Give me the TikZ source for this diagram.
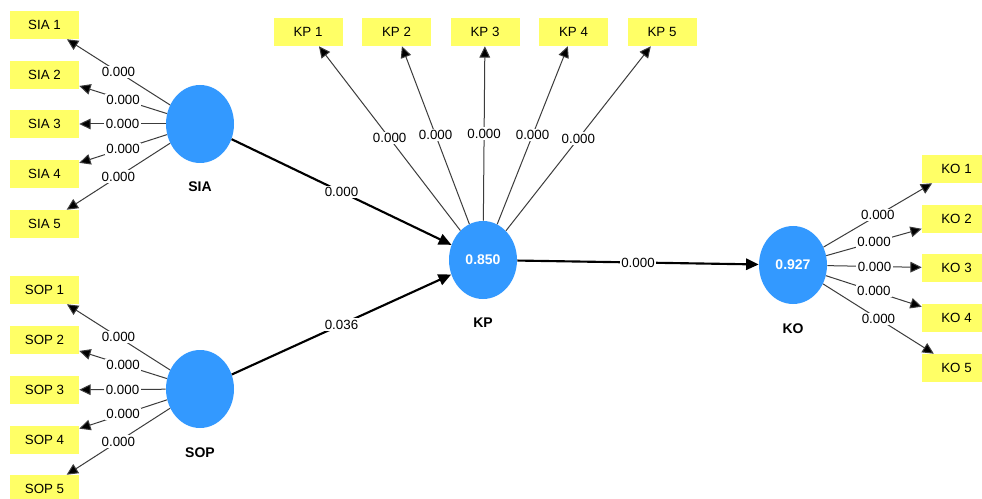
\documentclass[tikz,border=0pt]{standalone}
\usepackage{fontspec}
\setmainfont{Liberation Sans}
\usetikzlibrary{arrows.meta,shapes.geometric}
\definecolor{lvblue}{RGB}{51,153,255}
\definecolor{indyel}{RGB}{255,255,102}
\definecolor{linegray}{RGB}{60,60,60}
\begin{document}
\begin{tikzpicture}[x=0.75pt,y=-0.75pt,
  ind/.style={fill=indyel, minimum width=51.75pt, minimum height=21pt, inner sep=0pt, font=\fontsize{10}{12}\selectfont},
  lv/.style={ellipse, fill=lvblue, minimum width=51pt, minimum height=58.5pt, inner sep=0pt, text=white, font=\fontsize{10.5}{12}\selectfont\bfseries},
  lvname/.style={font=\fontsize{10.5}{12}\selectfont\bfseries},
  outer/.style={draw=linegray, line width=0.75pt, -{Triangle[length=8.5pt,width=8pt,fill=black]}},
  inner/.style={draw=black, line width=1.6pt, -{Triangle[length=9.5pt,width=8.5pt]}},
  wl/.style={fill=white, inner sep=1pt, font=\fontsize{10}{12}\selectfont}
]
\useasboundingbox (0,0) rectangle (982,499);
\fill[white] (0,0) rectangle (982,499);

% latent variables
\node[lv] (sia) at (200,124) {};
\node[lv] (sop) at (200,389) {};
\node[lv] (kp) at (483,260) {0.850};
\node[lv] (ko) at (793,265) {0.927};
\node[lvname] (siaN) at (200,187) {SIA};
\node[lvname] (sopN) at (200,453) {SOP};
\node[lvname] (kpN) at (483,323) {KP};
\node[lvname] (koN) at (793,329) {KO};

% SIA indicators
\node[ind] (sia1) at (44.5,25) {SIA 1};
\node[ind] (sia2) at (44.5,75) {SIA 2};
\node[ind] (sia3) at (44.5,124) {SIA 3};
\node[ind] (sia4) at (44.5,174) {SIA 4};
\node[ind] (sia5) at (44.5,224) {SIA 5};
% SOP indicators
\node[ind] (sop1) at (44.5,290) {SOP 1};
\node[ind] (sop2) at (44.5,340) {SOP 2};
\node[ind] (sop3) at (44.5,390) {SOP 3};
\node[ind] (sop4) at (44.5,440) {SOP 4};
\node[ind] (sop5) at (44.5,489) {SOP 5};
% KP indicators
\node[ind] (kp1) at (308,32) {KP 1};
\node[ind] (kp2) at (396.5,32) {KP 2};
\node[ind] (kp3) at (485,32) {KP 3};
\node[ind] (kp4) at (573.5,32) {KP 4};
\node[ind] (kp5) at (662,32) {KP 5};
% KO indicators
\node[ind] (ko1) at (956.5,169) {KO 1};
\node[ind] (ko2) at (956.5,219) {KO 2};
\node[ind] (ko3) at (956.5,268) {KO 3};
\node[ind] (ko4) at (956.5,318) {KO 4};
\node[ind] (ko5) at (956.5,368) {KO 5};

% outer loadings
\foreach \i in {1,...,5}{
  \draw[outer] (sia) -- node[wl]{0.000} (sia\i);
  \draw[outer] (sop) -- node[wl]{0.000} (sop\i);
  \draw[outer] (kp) -- node[wl]{0.000} (kp\i);
  \draw[outer] (ko) -- node[wl]{0.000} (ko\i);
}

% structural paths
\draw[inner] (sia) -- node[wl]{0.000} (kp);
\draw[inner] (sop) -- node[wl]{0.036} (kp);
\draw[inner] (kp) -- node[wl]{0.000} (ko);
\end{tikzpicture}
\end{document}
